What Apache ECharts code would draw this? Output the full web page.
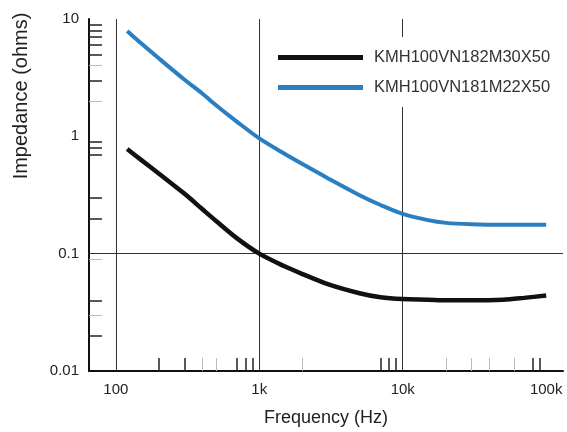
<!DOCTYPE html>
<html>
<head>
<meta charset="utf-8">
<title>Impedance vs Frequency</title>
<script src="https://cdn.jsdelivr.net/npm/echarts@6/dist/echarts.min.js"></script>
<style>
  html, body { margin: 0; padding: 0; background: #fff; }
  #main { width: 567px; height: 432px; }
</style>
</head>
<body>
<div id="main"></div>
<script type="text/javascript">
// frequencies (Hz)
var freqs = [120, 150, 200, 300, 400, 500, 700, 1000, 1500, 2000, 3000, 5000, 7000, 10000, 15000, 20000, 30000, 50000, 70000, 100000];
// impedance (ohms)
var blackVals = [0.78, 0.63, 0.48, 0.325, 0.24, 0.19, 0.135, 0.1, 0.078, 0.067, 0.055, 0.046, 0.0425, 0.041, 0.0405, 0.040, 0.040, 0.0405, 0.042, 0.044];
var blueVals  = [7.9, 6.2, 4.6, 3.05, 2.32, 1.84, 1.33, 0.96, 0.71, 0.58, 0.44, 0.315, 0.26, 0.218, 0.193, 0.183, 0.178, 0.176, 0.176, 0.176];
var seriesNames = ['KMH100VN182M30X50', 'KMH100VN181M22X50'];

// axis labels / ticks
var xLabels = [100, 1000, 10000, 100000];
var yLabels = [0.01, 0.1, 1, 10];
var xTicksDark = [200, 300, 700, 800, 900, 7000, 8000, 9000, 80000, 90000];
var xTicksLight = [400, 500, 2000, 20000, 30000, 40000, 60000];
var yTicksDark = [0.02, 0.04, 0.2, 0.3, 0.7, 0.8, 0.9, 3, 5, 6, 7, 8, 9];
var yTicksLight = [0.03, 0.09, 2, 4];
var gridX = [100, 1000, 10000];
var gridY = [0.1];

function pairs(vals) {
    return freqs.map(function (f, i) { return [f, vals[i]]; });
}

function fmtFreq(v) {
    if (v >= 1000) return (v / 1000) + 'k';
    return String(v);
}

var myChart = echarts.init(document.getElementById('main'));

var tickFont = { fontFamily: 'Liberation Sans', fontSize: 15, color: '#222' };

var markLines = gridX.map(function (v) { return { xAxis: v }; })
    .concat(gridY.map(function (v) { return { yAxis: v }; }));

myChart.setOption({
    animation: false,
    grid: { left: 89, right: 4, top: 19, bottom: 57 },
    legend: {
        orient: 'vertical',
        left: 270,
        top: 37,
        padding: [12, 8, 11, 8],
        backgroundColor: '#fff',
        itemWidth: 85,
        itemHeight: 5,
        itemGap: 13,
        icon: 'rect',
        textStyle: { fontFamily: 'Liberation Sans', fontSize: 16.5, color: '#333', padding: [0, 0, 0, 6] },
        data: seriesNames
    },
    graphic: [{
        type: 'text',
        x: 21, y: 96,
        rotation: Math.PI / 2,
        style: {
            text: 'Impedance (ohms)',
            font: '20px "Liberation Sans"',
            fill: '#222',
            textAlign: 'center',
            textVerticalAlign: 'middle'
        }
    }],
    xAxis: [{
        type: 'log',
        min: 65,
        max: 131000,
        name: 'Frequency (Hz)',
        nameLocation: 'middle',
        nameGap: 38,
        nameTextStyle: { fontFamily: 'Liberation Sans', fontSize: 18, color: '#222' },
        axisLine: { lineStyle: { color: '#111', width: 2 } },
        axisTick: { inside: true, length: 13, customValues: xTicksDark, lineStyle: { color: '#222', width: 1.5 } },
        axisLabel: Object.assign({ customValues: xLabels, formatter: fmtFreq, margin: 11 }, tickFont),
        splitLine: { show: false }
    }, {
        type: 'log',
        min: 65,
        max: 131000,
        position: 'bottom',
        axisLine: { show: false },
        axisTick: { inside: true, length: 13, customValues: xTicksLight, lineStyle: { color: '#bbb', width: 1 } },
        axisLabel: { show: false },
        splitLine: { show: false }
    }],
    yAxis: [{
        type: 'log',
        min: 0.01,
        max: 10,
        axisLine: { show: true, lineStyle: { color: '#111', width: 2 } },
        axisTick: { inside: true, length: 13, customValues: yTicksDark, lineStyle: { color: '#222', width: 1.5 } },
        axisLabel: Object.assign({ customValues: yLabels, margin: 10 }, tickFont),
        splitLine: { show: false }
    }, {
        type: 'log',
        min: 0.01,
        max: 10,
        position: 'left',
        axisLine: { show: false },
        axisTick: { inside: true, length: 13, customValues: yTicksLight, lineStyle: { color: '#bbb', width: 1 } },
        axisLabel: { show: false },
        splitLine: { show: false }
    }],
    series: [{
        name: seriesNames[0],
        type: 'line',
        smooth: 0.3,
        showSymbol: false,
        color: '#111',
        lineStyle: { width: 4.5, color: '#111' },
        data: pairs(blackVals),
        z: 3,
        markLine: {
            silent: true,
            symbol: 'none',
            label: { show: false },
            lineStyle: { type: 'solid', color: '#333', width: 1 },
            data: markLines,
            z: 1
        }
    }, {
        name: seriesNames[1],
        type: 'line',
        smooth: 0.3,
        showSymbol: false,
        color: '#2a7fc2',
        lineStyle: { width: 4, color: '#2a7fc2' },
        data: pairs(blueVals),
        z: 3
    }]
});
</script>
</body>
</html>
